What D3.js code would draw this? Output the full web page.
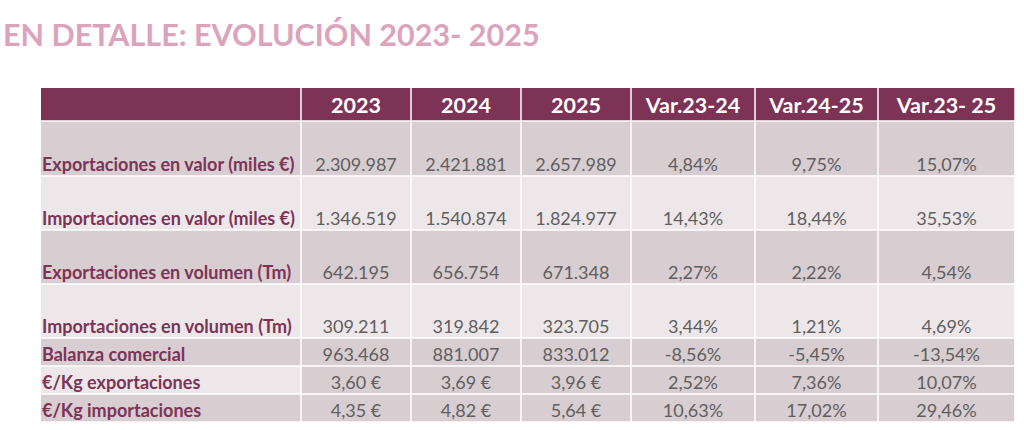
<!DOCTYPE html>
<html>
<head>
<meta charset="utf-8">
<script src="https://cdn.jsdelivr.net/npm/d3@7"></script>
<style>
  body { margin: 0; background: #ffffff; }
  svg { display: block; }
</style>
</head>
<body>
<div id="chart"></div>
<script>
var title = "EN DETALLE: EVOLUCIÓN 2023- 2025";
var headers = ["", "2023", "2024", "2025", "Var.23-24", "Var.24-25", "Var.23- 25"];
var rowLabels = [
    "Exportaciones en valor (miles €)",
    "Importaciones en valor (miles €)",
    "Exportaciones en volumen (Tm)",
    "Importaciones en volumen (Tm)",
    "Balanza comercial",
    "€/Kg exportaciones",
    "€/Kg importaciones"
];
var rowKinds = ["int", "int", "int", "int", "int", "eur", "eur"]; // how to print each row
var v2023 = [2309987, 1346519, 642195, 309211, 963468, 3.60, 4.35];
var v2024 = [2421881, 1540874, 656754, 319842, 881007, 3.69, 4.82];
var v2025 = [2657989, 1824977, 671348, 323705, 833012, 3.96, 5.64];
var var2324 = [4.84, 14.43, 2.27, 3.44, -8.56, 2.52, 10.63];
var var2425 = [9.75, 18.44, 2.22, 1.21, -5.45, 7.36, 17.02];
var var2325 = [15.07, 35.53, 4.54, 4.69, -13.54, 10.07, 29.46];

var w = 1024;
var h = 430;

var colWidths = [260, 110, 110, 110, 124, 123, 137]; //widths of each column in px
var rowHeights = [33, 55, 54, 54, 54, 28, 28, 28];    //header first, then data rows
var tableLeft = 41, tableTop = 88;

var dark = "#d8cdd1", light = "#ede7e9", headFill = "#7d3356";
var rowFill = [dark, light, dark, light, dark, dark, dark];
var labelFill = [dark, light, dark, light, dark, light, dark]; //label cell of row 6 is lighter

var es = d3.formatLocale({ decimal: ",", thousands: ".", grouping: [3], currency: ["", " €"], minus: "-" });
var fInt = es.format(",d");
var fDec = es.format(".2f");

function fmtVal(v, kind) {
    return kind === "eur" ? fDec(v) + " €" : fInt(v);
}
function fmtPct(v) {
    return fDec(v) + "%";
}

// build rows of strings
var table = rowLabels.map(function (lab, i) {
    return [lab,
        fmtVal(v2023[i], rowKinds[i]),
        fmtVal(v2024[i], rowKinds[i]),
        fmtVal(v2025[i], rowKinds[i]),
        fmtPct(var2324[i]),
        fmtPct(var2425[i]),
        fmtPct(var2325[i])];
});

var colX = [tableLeft];
colWidths.forEach(function (cw, i) { colX.push(colX[i] + cw); });
var rowY = [tableTop];
rowHeights.forEach(function (rh, i) { rowY.push(rowY[i] + rh); });

var svg = d3.select("#chart")
    .append("svg")
    .attr("width", w)
    .attr("height", h);

svg.append("text") //title
    .attr("x", 3)
    .attr("y", 46)
    .style("font-family", "Lato, 'Open Sans', sans-serif")
    .style("font-weight", "bold")
    .style("font-size", "30.5px")
    .style("fill", "#dba3bc")
    .text(title);

var gap = 1.5; //white lines between cells

// header
var head = svg.append("g");
head.selectAll("rect")
    .data(headers)
    .enter()
    .append("rect")
    .attr("x", function (d, i) { return colX[i] + (i === 0 ? 0 : gap / 2); })
    .attr("y", rowY[0])
    .attr("width", function (d, i) { return colWidths[i] - (i === 0 ? gap / 2 : gap); })
    .attr("height", rowHeights[0] - gap / 2)
    .style("fill", headFill);

head.selectAll("text")
    .data(headers)
    .enter()
    .append("text")
    .attr("x", function (d, i) { return colX[i] + colWidths[i] / 2; })
    .attr("y", rowY[1] - 8)
    .attr("text-anchor", "middle")
    .style("font-family", "Lato, sans-serif")
    .style("font-weight", "bold")
    .style("font-size", "21.5px")
    .style("fill", "#ffffff")
    .text(function (d) { return d; });

// body
var rows = svg.append("g")
    .selectAll("g")
    .data(table)
    .enter()
    .append("g");

rows.selectAll("rect")
    .data(function (d, r) { return d.map(function (v, c) { return { v: v, r: r, c: c }; }); })
    .enter()
    .append("rect")
    .attr("x", function (d) { return colX[d.c] + (d.c === 0 ? 0 : gap / 2); })
    .attr("y", function (d) { return rowY[d.r + 1] + gap / 2; })
    .attr("width", function (d) { return colWidths[d.c] - (d.c === 0 ? gap / 2 : gap); })
    .attr("height", function (d) { return rowHeights[d.r + 1] - gap; })
    .style("fill", function (d) { return d.c === 0 ? labelFill[d.r] : rowFill[d.r]; });

rows.selectAll("text")
    .data(function (d, r) { return d.map(function (v, c) { return { v: v, r: r, c: c }; }); })
    .enter()
    .append("text")
    .attr("x", function (d) { return d.c === 0 ? colX[0] + 1 : colX[d.c] + colWidths[d.c] / 2; })
    .attr("y", function (d) { return rowY[d.r + 2] - 5; })
    .attr("text-anchor", function (d) { return d.c === 0 ? "start" : "middle"; })
    .style("font-family", "Lato, sans-serif")
    .style("font-weight", function (d) { return d.c === 0 ? "bold" : "normal"; })
    .style("font-size", "18px")
    .style("fill", function (d) { return d.c === 0 ? "#7d3356" : "#5f5f5f"; })
    .text(function (d) { return d.v; });
</script>
</body>
</html>
